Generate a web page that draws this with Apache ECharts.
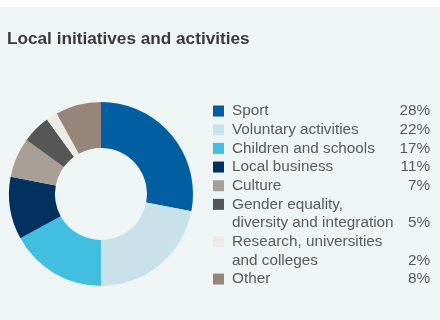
<!DOCTYPE html>
<html><head><meta charset="utf-8">
<script src="https://cdn.jsdelivr.net/npm/echarts@6/dist/echarts.min.js"></script>
<style>html,body{margin:0;padding:0;background:#fff}#c{width:440px;height:320px}</style>
</head><body><div id="c"></div>
<script>
const title = 'Local initiatives and activities';
const categories = ['Sport','Voluntary activities','Children and schools','Local business','Culture','Gender equality, diversity and integration','Research, universities and colleges','Other'];
const legendLines = [['Sport'],['Voluntary activities'],['Children and schools'],['Local business'],['Culture'],['Gender equality,','diversity and integration'],['Research, universities','and colleges'],['Other']];
const values = [28,22,17,11,7,5,2,8];
const pctLabels = ['28%','22%','17%','11%','7%','5%','2%','8%'];
const colors = ['#005ea1','#c8e1ea','#42bfe0','#00315f','#a79e95','#565656','#eceae5','#968578'];

const FF = 'Liberation Sans, Arial, sans-serif';
const FS = 15.3, LH = 18.67;
const chart = echarts.init(document.getElementById('c'), null, {renderer:'canvas'});
const rich = {
  t:{width:162, fontSize:FS, color:'#5a5a5a', fontFamily:FF, lineHeight:LH},
  p:{width:36, align:'right', fontSize:FS, color:'#5a5a5a', fontFamily:FF, lineHeight:LH},
  g:{width:8, height:11, lineHeight:LH},
  g2:{width:19, height:11, lineHeight:LH}
};
colors.forEach((c,i)=>{ rich['s'+i] = {width:11, height:11, backgroundColor:c, lineHeight:LH}; });

chart.setOption({
  animation:false,
  backgroundColor:'#ffffff',
  graphic:[{type:'rect', z:-10, shape:{x:0,y:7,width:440,height:313}, style:{fill:'#eff5f5'}, silent:true}],
  title:{text:title, left:7, top:30.5, padding:0, textStyle:{fontSize:17.2, fontWeight:'bold', color:'#3a3a3a', fontFamily:FF}},
  color:colors,
  legend:{
    left:213, top:101.7, orient:'vertical', padding:0, itemGap:0, icon:'none', itemWidth:0, itemHeight:11,
    selectedMode:false,
    data:categories,
    textStyle:{rich:rich, lineHeight:LH, fontSize:FS, color:'#5a5a5a', padding:[0,0,0,-5]},
    formatter:function(name){
      const i = categories.indexOf(name);
      const lines = legendLines[i];
      let out = '';
      lines.forEach((ln,k)=>{
        if(k===0) out += '{s'+i+'|}{g|}'; else out += '\n{g2|}';
        out += '{t|'+ln+'}';
        if(k===lines.length-1) out += '{p|'+pctLabels[i]+'}';
      });
      return out;
    }
  },
  series:[{
    type:'pie', center:[101,194], radius:[46,92], startAngle:90, clockwise:true,
    label:{show:false}, labelLine:{show:false}, silent:true,
    itemStyle:{borderWidth:0},
    data:categories.map((n,i)=>({name:n, value:values[i]}))
  }]
});
</script></body></html>
